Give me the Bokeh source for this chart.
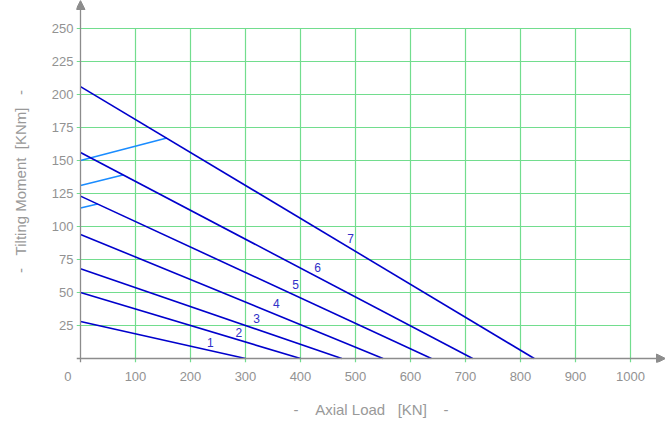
from bokeh.plotting import figure
from bokeh.models import FixedTicker, Arrow, NormalHead, Range1d
from bokeh.embed import file_html
from bokeh.resources import INLINE
from bokeh.core.properties import value

# ---- data ----
x_ticks = [0, 100, 200, 300, 400, 500, 600, 700, 800, 900, 1000]
y_ticks = [25, 50, 75, 100, 125, 150, 175, 200, 225, 250]
curve_ids = ["1", "2", "3", "4", "5", "6", "7"]
moment_at_zero_load = [28, 50, 68, 94, 123, 156, 206]      # KNm
load_at_zero_moment = [300, 400, 475, 550, 638, 713, 825]  # KN
curve_label_x = [236, 288, 320, 356, 391, 431, 491]
curve_label_y = [12, 20, 30, 42, 56, 69, 91]
limit_start_moment = [114, 131, 150]
limit_end_load = [31, 77, 157]
limit_end_moment = [117, 139, 167]

FONT = "Liberation Sans"
GRAY = "#999999"
LABEL_GRAY = "#929292"
GRID = "#72dd8e"
DARK_BLUE = "#0000cc"
LIGHT_BLUE = "#1a8cff"
AXIS_GRAY = "#8c8c8c"

W, H = 665, 426
px_x = 0.55   # pixels per KN
px_y = 1.32   # pixels per KNm
left_b, bottom_b = 76, 64
frame_w = W - left_b
frame_h = H - bottom_b

x0 = -4 / px_x
y0 = -4 / px_y
xr = Range1d(x0, x0 + frame_w / px_x)
yr = Range1d(y0, y0 + frame_h / px_y)

p = figure(width=W, height=H, x_range=xr, y_range=yr,
           output_backend="svg", toolbar_location=None,
           min_border_left=left_b, min_border_right=0,
           min_border_top=0, min_border_bottom=bottom_b)
p.outline_line_color = None
p.xgrid.visible = False
p.ygrid.visible = False
p.background_fill_color = "white"
p.border_fill_color = "white"

grid_x = x_ticks[1:]
# grid (with small outward ticks)
p.segment(x0=[xr.start] * len(y_ticks), y0=y_ticks, x1=[grid_x[-1]] * len(y_ticks), y1=y_ticks,
          line_color=GRID, line_width=1.2)
p.segment(x0=grid_x, y0=[yr.start] * len(grid_x), x1=grid_x, y1=[y_ticks[-1]] * len(grid_x),
          line_color=GRID, line_width=1.2)

# light blue limit segments
p.segment(x0=[0] * len(limit_start_moment), y0=limit_start_moment,
          x1=limit_end_load, y1=limit_end_moment,
          line_color=LIGHT_BLUE, line_width=1.5)

# curves
p.segment(x0=[0] * len(moment_at_zero_load), y0=moment_at_zero_load,
          x1=load_at_zero_moment, y1=[0] * len(load_at_zero_moment),
          line_color=DARK_BLUE, line_width=1.6)

p.text(x=curve_label_x, y=curve_label_y, text=curve_ids,
       text_align="center", text_baseline="middle",
       text_font=value(FONT), text_font_size="12px", text_color="#3030c8")

# axes lines with arrows
p.add_layout(Arrow(x_start=xr.start, y_start=0, x_end=xr.end, y_end=0,
                   line_color=AXIS_GRAY, line_width=1.3,
                   end=NormalHead(size=9, fill_color=AXIS_GRAY, line_color=AXIS_GRAY)))
p.add_layout(Arrow(x_start=0, y_start=yr.start, x_end=0, y_end=yr.end,
                   line_color=AXIS_GRAY, line_width=1.3,
                   end=NormalHead(size=9, fill_color=AXIS_GRAY, line_color=AXIS_GRAY)))

for ax, ticks in ((p.xaxis[0], x_ticks), (p.yaxis[0], y_ticks)):
    ax.ticker = FixedTicker(ticks=ticks)
    ax.axis_line_color = None
    ax.major_tick_line_color = None
    ax.minor_tick_line_color = None
    ax.major_tick_out = 0
    ax.major_tick_in = 0
    ax.major_label_text_font = FONT
    ax.major_label_text_font_size = "13px"
    ax.major_label_text_color = LABEL_GRAY
    ax.axis_label_text_font = FONT
    ax.axis_label_text_font_size = "15px"
    ax.axis_label_text_font_style = "normal"
    ax.axis_label_text_color = GRAY

nb = "\u00a0"
# the origin label sits to the lower-left of the origin
p.xaxis[0].major_label_overrides = {0: "0" + nb * 7}
p.xaxis[0].axis_label = f"-{nb*4}Axial Load{nb*3}[KN]{nb*4}-"
p.yaxis[0].axis_label = f"-{nb*3}Tilting Moment{nb*2}[KNm]{nb*3}-"
p.xaxis[0].major_label_standoff = 6
p.xaxis[0].axis_label_standoff = 14
p.yaxis[0].major_label_standoff = 3
p.yaxis[0].axis_label_standoff = 20

open("out.html", "w").write(file_html(p, INLINE))
